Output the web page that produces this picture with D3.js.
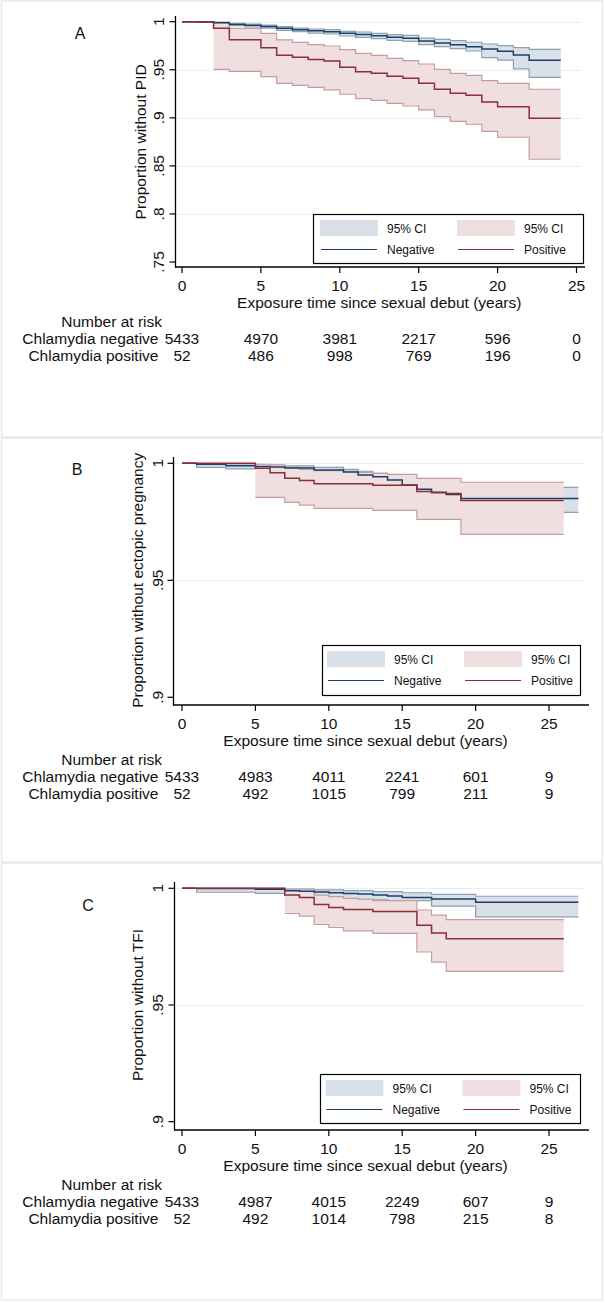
<!DOCTYPE html>
<html>
<head>
<meta charset="utf-8">
<script src="https://cdn.jsdelivr.net/npm/d3@7"></script>
<style>
  html, body { margin: 0; padding: 0; background: #fff; }
  svg { display: block; }
  text { font-family: "Liberation Sans", Arial, sans-serif; fill: #111; }
</style>
</head>
<body>
<svg id="chart" width="605" height="1303"></svg>
<script>
// ---------------- DATA ----------------
const xTickValues = [0, 5, 10, 15, 20, 25];
const riskTimes = [0, 5, 10, 15, 20, 25];
const panelLetters = ["A", "B", "C"];
const yTitles = ["Proportion without PID", "Proportion without ectopic pregnancy", "Proportion without TFI"];
const xTitle = "Exposure time since sexual debut (years)";
const riskRowLabels = ["Chlamydia negative", "Chlamydia positive"];
const legendLabels = ["95% CI", "95% CI", "Negative", "Positive"];
const yTicksA = [0.75, 0.8, 0.85, 0.9, 0.95, 1];
const yTickLabelsA = [".75", ".8", ".85", ".9", ".95", "1"];
const yTicksBC = [0.9, 0.95, 1];
const yTickLabelsBC = [".9", ".95", "1"];

// Panel A (step times, value holds from t until next t)
const timesA  = [0,1,2,3,4,5,6,7,8,9,10,11,12,13,14,15,16,17,18,19,20,21,22,24];
const negA    = [1,0.9997,0.999,0.9972,0.9962,0.9951,0.9931,0.9917,0.9906,0.9896,0.9879,0.9868,0.9854,0.9837,0.9827,0.9799,0.9778,0.9761,0.974,0.9716,0.9692,0.9653,0.9598,0.9598];
const negHiA  = [1,1,0.9997,0.9983,0.9976,0.9965,0.9948,0.9934,0.9924,0.9917,0.99,0.9893,0.9879,0.9865,0.9858,0.983,0.9817,0.9803,0.9786,0.9768,0.9751,0.973,0.9713,0.9713];
const negLoA  = [1,0.9993,0.9983,0.9958,0.9945,0.9934,0.991,0.9896,0.9882,0.9872,0.9851,0.9837,0.9823,0.9806,0.9796,0.9761,0.974,0.9719,0.9695,0.9626,0.96,0.951,0.942,0.942];
const posA    = [1,1,0.9931,0.9813,0.9813,0.973,0.965,0.9629,0.9608,0.9591,0.9525,0.948,0.9463,0.9432,0.9411,0.9359,0.9297,0.9255,0.9234,0.9165,0.9116,0.9116,0.8995,0.8995];
const posHiA  = [null,null,0.999,0.9931,0.9931,0.9879,0.981,0.9785,0.9761,0.9747,0.9709,0.9671,0.965,0.9619,0.9595,0.956,0.9505,0.9463,0.9442,0.9387,0.9359,0.9359,0.9297,0.9297];
const posLoA  = [null,null,0.9505,0.9484,0.9484,0.9428,0.9359,0.9338,0.9317,0.929,0.9245,0.92,0.9182,0.9151,0.9123,0.9082,0.9012,0.8964,0.8933,0.886,0.8798,0.8798,0.8569,0.8569];
const riskNegA = [5433, 4970, 3981, 2217, 596, 0];
const riskPosA = [52, 486, 998, 769, 196, 0];

// Panel B
const timesB  = [0,1,2,3,4,5,6,7,8,9,10,11,12,13,14,15,16,17,18,19,20,21,22,23,24,25,26,27];
const negB    = [1,0.9996,0.9996,0.999,0.999,0.9986,0.9984,0.998,0.998,0.9971,0.9971,0.9963,0.995,0.9943,0.9929,0.9907,0.9889,0.9876,0.9867,0.985,0.985,0.985,0.985,0.985,0.985,0.985,0.985,0.985];
const negHiB  = [1,0.9999,0.9999,0.9997,0.9997,0.9994,0.9991,0.9989,0.9989,0.9983,0.9983,0.9974,0.9966,0.9957,0.995,0.9929,0.9907,0.9893,0.9886,0.9897,0.9897,0.9897,0.9897,0.9897,0.9897,0.9897,0.9897,0.9897];
const negLoB  = [1,0.9983,0.9983,0.9976,0.9976,0.9976,0.9976,0.9971,0.9971,0.9963,0.9963,0.9953,0.9943,0.9929,0.9914,0.9893,0.9864,0.985,0.9836,0.979,0.979,0.979,0.979,0.979,0.979,0.979,0.979,0.979];
const posB    = [1,1,1,1,1,0.9979,0.996,0.9936,0.9926,0.9913,0.9913,0.9913,0.9913,0.9906,0.9906,0.9906,0.9879,0.9874,0.9871,0.9841,0.9841,0.9841,0.9841,0.9841,0.9841,0.9841,0.9841,null];
const posHiB  = [null,null,null,null,null,0.9996,0.9993,0.9983,0.9974,0.9969,0.9969,0.9966,0.9961,0.9957,0.9953,0.9953,0.9936,0.9936,0.9936,0.9919,0.9919,0.9919,0.9919,0.9919,0.9919,0.9919,0.9919,null];
const posLoB  = [null,null,null,null,null,0.9854,0.9854,0.9833,0.9821,0.9807,0.9807,0.9807,0.9807,0.9799,0.9799,0.9799,0.976,0.976,0.976,0.9696,0.9696,0.9696,0.9696,0.9696,0.9696,0.9696,0.9696,null];
const riskNegB = [5433, 4983, 4011, 2241, 601, 9];
const riskPosB = [52, 492, 1015, 799, 211, 9];

// Panel C
const timesC  = [0,1,2,3,4,5,6,7,8,9,10,11,12,13,14,15,16,17,18,19,20,21,22,23,24,25,26,27];
const negC    = [1,0.9999,0.9999,0.9999,0.9999,0.9996,0.9996,0.999,0.9987,0.9984,0.9981,0.9978,0.9976,0.9971,0.9967,0.9961,0.9961,0.9954,0.9954,0.9954,0.994,0.994,0.994,0.994,0.994,0.994,0.994,0.994];
const negHiC  = [1,1,1,1,1,1,1,0.9997,0.9997,0.9993,0.9993,0.999,0.999,0.9986,0.9986,0.9981,0.9981,0.9974,0.9974,0.9974,0.9966,0.9966,0.9966,0.9966,0.9966,0.9966,0.9966,0.9966];
const negLoC  = [1,0.9983,0.9983,0.9983,0.9983,0.9978,0.9978,0.997,0.997,0.9964,0.9961,0.9955,0.9953,0.995,0.9947,0.9947,0.9947,0.9924,0.9924,0.9924,0.9878,0.9878,0.9878,0.9878,0.9878,0.9878,0.9878,0.9878];
const posC    = [1,1,1,1,1,1,1,0.9971,0.9961,0.9931,0.9918,0.9909,0.9909,0.9901,0.9901,0.9901,0.9842,0.9809,0.9784,0.9784,0.9784,0.9784,0.9784,0.9784,0.9784,0.9784,0.9784,null];
const posHiC  = [null,null,null,null,null,null,null,0.9996,0.9996,0.9971,0.9964,0.9957,0.9953,0.9947,0.9947,0.9947,0.9907,0.9885,0.9866,0.9866,0.9866,0.9866,0.9866,0.9866,0.9866,0.9866,0.9866,null];
const posLoC  = [null,null,null,null,null,null,null,0.9892,0.9881,0.9845,0.9832,0.9818,0.9818,0.9807,0.9807,0.9807,0.9727,0.9684,0.9644,0.9644,0.9644,0.9644,0.9644,0.9644,0.9644,0.9644,0.9644,null];
const riskNegC = [5433, 4987, 4015, 2249, 607, 9];
const riskPosC = [52, 492, 1014, 798, 215, 8];

// ---------------- STYLE / LAYOUT ----------------
const COL = {
  negLine: "#1a3f68", posLine: "#8c2e37",
  negFill: "#d9e0e8", negEdge: "#8d9fb2",
  posFill: "#efdfe0", posEdge: "#c69d9f",
  grid: "#e6eeee", frame: "#e4ecec"
};
const FS = 15.5;

const panels = [
  { letter: panelLetters[0], letterPos: [80, 33], yTitle: yTitles[0], top: 0, bottom: 437,
    x0: 182, x25: 576.5, xLineL: 175, xLineR: 585, axisY: 267, yAxisX: 175.5, yAxisTop: 16,
    yDom: [0.75, 1], yRng: [262, 21.7], yTicks: yTicksA, yTickLabels: yTickLabelsA,
    yLabX: 158, yTitleX: 140, legend: [313, 214, 270, 49], legPad: 7,
    t: timesA, neg: negA, negHi: negHiA, negLo: negLoA, pos: posA, posHi: posHiA, posLo: posLoA,
    riskNeg: riskNegA, riskPos: riskPosA },
  { letter: panelLetters[1], letterPos: [77, 469], yTitle: yTitles[1], top: 437, bottom: 862,
    x0: 182, x25: 549, xLineL: 173, xLineR: 589, axisY: 705, yAxisX: 173.5, yAxisTop: 457,
    yDom: [0.9, 1], yRng: [697.3, 463.3], yTicks: yTicksBC, yTickLabels: yTickLabelsBC,
    yLabX: 157.5, yTitleX: 137.5, legend: [322, 645, 258, 50], legPad: 5,
    t: timesB, neg: negB, negHi: negHiB, negLo: negLoB, pos: posB, posHi: posHiB, posLo: posLoB,
    riskNeg: riskNegB, riskPos: riskPosB },
  { letter: panelLetters[2], letterPos: [88, 905], yTitle: yTitles[2], top: 862, bottom: 1300,
    x0: 182, x25: 549, xLineL: 174, xLineR: 589, axisY: 1130, yAxisX: 174.5, yAxisTop: 882,
    yDom: [0.9, 1], yRng: [1121.7, 888.3], yTicks: yTicksBC, yTickLabels: yTickLabelsBC,
    yLabX: 157.5, yTitleX: 137.5, legend: [320, 1074, 260, 49], legPad: 5.5,
    t: timesC, neg: negC, negHi: negHiC, negLo: negLoC, pos: posC, posHi: posHiC, posLo: posLoC,
    riskNeg: riskNegC, riskPos: riskPosC }
];

const svg = d3.select("#chart");

// panel frames
panels.forEach(p => {
  svg.append("rect")
    .attr("x", 1.5).attr("y", p.top + 1).attr("width", 601).attr("height", p.bottom - p.top - 1)
    .attr("fill", "none").attr("stroke", COL.frame).attr("stroke-width", 1.5);
});

function drawPanel(p) {
  const g = svg.append("g");
  const x = d3.scaleLinear().domain([0, 25]).range([p.x0, p.x25]);
  const y = d3.scaleLinear().domain(p.yDom).range(p.yRng);

  // gridlines
  g.selectAll(".grid").data(p.yTicks.filter(v => v > p.yDom[0])).enter().append("line")
    .attr("x1", p.yAxisX + 1).attr("x2", p.xLineR - 4)
    .attr("y1", d => Math.round(y(d)) + 0.5).attr("y2", d => Math.round(y(d)) + 0.5)
    .attr("stroke", COL.grid).attr("stroke-width", 1);

  const rows = p.t.map((t, i) => ({ t, neg: p.neg[i], negHi: p.negHi[i], negLo: p.negLo[i],
                                     pos: p.pos[i], posHi: p.posHi[i], posLo: p.posLo[i] }));

  const area = (lo, hi) => d3.area().curve(d3.curveStepAfter)
    .defined(d => d[lo] != null && d[hi] != null)
    .x(d => x(d.t)).y0(d => y(d[lo])).y1(d => y(d[hi]));
  const line = key => d3.line().curve(d3.curveStepAfter)
    .defined(d => d[key] != null)
    .x(d => x(d.t)).y(d => y(d[key]));

  // negative CI
  g.append("path").attr("d", area("negLo", "negHi")(rows)).attr("fill", COL.negFill);
  ["negLo", "negHi"].forEach(k => g.append("path").attr("d", line(k)(rows))
    .attr("fill", "none").attr("stroke", COL.negEdge).attr("stroke-width", 1.2));
  // positive CI
  g.append("path").attr("d", area("posLo", "posHi")(rows)).attr("fill", COL.posFill);
  ["posLo", "posHi"].forEach(k => g.append("path").attr("d", line(k)(rows))
    .attr("fill", "none").attr("stroke", COL.posEdge).attr("stroke-width", 1.2));
  // survival lines
  g.append("path").attr("d", line("neg")(rows)).attr("fill", "none")
    .attr("stroke", COL.negLine).attr("stroke-width", 1.5);
  g.append("path").attr("d", line("pos")(rows)).attr("fill", "none")
    .attr("stroke", COL.posLine).attr("stroke-width", 1.5);

  // y axis
  g.append("line").attr("x1", p.yAxisX).attr("x2", p.yAxisX)
    .attr("y1", p.yAxisTop).attr("y2", p.axisY + 0.5).attr("stroke", "#000").attr("stroke-width", 1.3);
  g.selectAll(".ytick").data(p.yTicks).enter().append("line")
    .attr("x1", p.yAxisX - 6).attr("x2", p.yAxisX)
    .attr("y1", d => y(d)).attr("y2", d => y(d)).attr("stroke", "#000").attr("stroke-width", 1.2);
  g.selectAll(".ylab").data(p.yTicks).enter().append("text")
    .attr("transform", d => `translate(${p.yLabX},${y(d)}) rotate(-90)`)
    .attr("text-anchor", "middle").attr("dominant-baseline", "central")
    .attr("font-size", FS).text((d, i) => p.yTickLabels[i]);
  g.append("text")
    .attr("transform", `translate(${p.yTitleX},${(p.yRng[0] + p.yRng[1]) / 2}) rotate(-90)`)
    .attr("text-anchor", "middle").attr("dominant-baseline", "central")
    .attr("font-size", FS).text(p.yTitle);

  // x axis
  g.append("line").attr("x1", p.xLineL).attr("x2", p.xLineR)
    .attr("y1", p.axisY).attr("y2", p.axisY).attr("stroke", "#000").attr("stroke-width", 1.3);
  g.selectAll(".xtick").data(xTickValues).enter().append("line")
    .attr("x1", d => x(d)).attr("x2", d => x(d))
    .attr("y1", p.axisY).attr("y2", p.axisY + 6).attr("stroke", "#000").attr("stroke-width", 1.2);
  g.selectAll(".xlab").data(xTickValues).enter().append("text")
    .attr("x", d => x(d)).attr("y", p.axisY + 18)
    .attr("text-anchor", "middle").attr("dominant-baseline", "central")
    .attr("font-size", FS).text(d => d);
  g.append("text").attr("x", (x(0) + x(25)) / 2).attr("y", p.axisY + 35)
    .attr("text-anchor", "middle").attr("dominant-baseline", "central")
    .attr("font-size", FS).text(xTitle);

  // number at risk
  g.append("text").attr("x", 162).attr("y", p.axisY + 54)
    .attr("text-anchor", "end").attr("dominant-baseline", "central")
    .attr("font-size", FS).text("Number at risk");
  [p.riskNeg, p.riskPos].forEach((arr, r) => {
    const yy = p.axisY + 71 + r * 17;
    g.append("text").attr("x", 158.5).attr("y", yy)
      .attr("text-anchor", "end").attr("dominant-baseline", "central")
      .attr("font-size", FS).text(riskRowLabels[r]);
    g.selectAll(null).data(arr).enter().append("text")
      .attr("x", (d, i) => x(riskTimes[i])).attr("y", yy)
      .attr("text-anchor", "middle").attr("dominant-baseline", "central")
      .attr("font-size", FS).text(d => d);
  });

  // panel letter
  g.append("text").attr("x", p.letterPos[0]).attr("y", p.letterPos[1])
    .attr("text-anchor", "middle").attr("dominant-baseline", "central")
    .attr("font-size", 16).text(p.letter);

  // legend
  const [lx, ly, lw, lh] = p.legend;
  const lg = g.append("g");
  lg.append("rect").attr("x", lx + 0.5).attr("y", ly + 0.5).attr("width", lw).attr("height", lh)
    .attr("fill", "#fff").attr("stroke", "#000").attr("stroke-width", 1.2);
  [0, 1].forEach(c => {
    const cx = lx + p.legPad + c * 137;
    lg.append("rect").attr("x", cx).attr("y", ly + 6).attr("width", 58).attr("height", 16)
      .attr("fill", c === 0 ? COL.negFill : COL.posFill);
    lg.append("text").attr("x", cx + 67).attr("y", ly + 15)
      .attr("dominant-baseline", "central").attr("font-size", 12).text(legendLabels[c]);
    lg.append("line").attr("x1", cx + 1).attr("x2", cx + 57)
      .attr("y1", ly + 35.5).attr("y2", ly + 35.5)
      .attr("stroke", c === 0 ? COL.negLine : COL.posLine).attr("stroke-width", 1.2);
    lg.append("text").attr("x", cx + 67).attr("y", ly + 36)
      .attr("dominant-baseline", "central").attr("font-size", 12).text(legendLabels[2 + c]);
  });
}

panels.forEach(drawPanel);
</script>
</body>
</html>
